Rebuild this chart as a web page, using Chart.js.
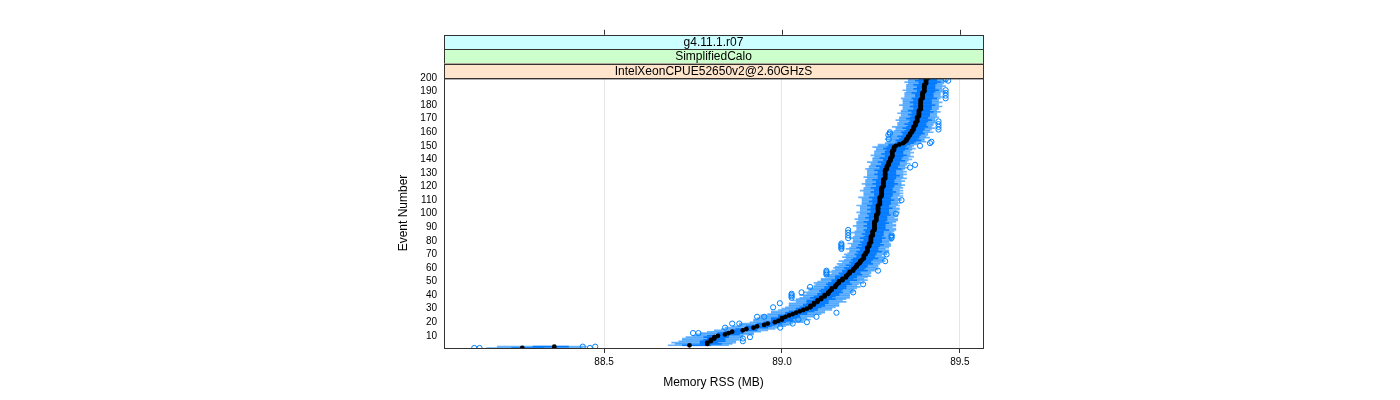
<!DOCTYPE html>
<html>
<head>
<meta charset="utf-8">
<script src="https://cdn.jsdelivr.net/npm/chart.js@4"></script>
<style>
  body { margin: 0; background: #fff; }
  canvas { display: block; }
</style>
</head>
<body>
<canvas id="rss" width="1400" height="400"></canvas>
<script>
// strip labels, outermost first
const stripLabels = ["g4.11.1.r07", "SimplifiedCalo", "IntelXeonCPUE52650v2@2.60GHzS"];
const stripColors = ["#ccffff", "#ccffcc", "#ffe5cc"];

const events = Array.from({length: 200}, (_, i) => i + 1);

// median memory RSS per event (MB)
const medians = [
  88.27, 88.36, 88.74, 88.79, 88.79, 88.80, 88.80, 88.81, 88.81, 88.82,
  88.84, 88.85, 88.86, 88.89, 88.90, 88.92, 88.93, 88.95, 88.96, 88.98,
  88.99, 89.00, 89.00, 89.01, 89.02, 89.03, 89.04, 89.05, 89.06, 89.07,
  89.08, 89.08, 89.09, 89.09, 89.10, 89.10, 89.11, 89.11, 89.12, 89.12,
  89.13, 89.13, 89.135, 89.14, 89.14, 89.15, 89.15, 89.155, 89.16, 89.16,
  89.17, 89.17, 89.18, 89.18, 89.185, 89.19, 89.19, 89.20, 89.20, 89.205,
  89.21, 89.21, 89.215, 89.22, 89.22, 89.225, 89.23, 89.23, 89.23, 89.235,
  89.235, 89.24, 89.24, 89.24, 89.24, 89.245, 89.245, 89.245, 89.25, 89.25,
  89.25, 89.25, 89.25, 89.255, 89.255, 89.255, 89.255, 89.26, 89.26, 89.26,
  89.26, 89.26, 89.26, 89.26, 89.265, 89.265, 89.265, 89.265, 89.265, 89.27,
  89.27, 89.27, 89.27, 89.27, 89.27, 89.27, 89.275, 89.275, 89.275, 89.275,
  89.275, 89.275, 89.28, 89.28, 89.28, 89.28, 89.28, 89.28, 89.28, 89.285,
  89.285, 89.285, 89.285, 89.285, 89.285, 89.29, 89.29, 89.29, 89.29, 89.29,
  89.29, 89.29, 89.295, 89.295, 89.295, 89.30, 89.30, 89.30, 89.305, 89.305,
  89.305, 89.31, 89.31, 89.31, 89.31, 89.31, 89.315, 89.315, 89.315, 89.32,
  89.33, 89.34, 89.345, 89.35, 89.35, 89.355, 89.355, 89.36, 89.36, 89.365,
  89.365, 89.37, 89.37, 89.37, 89.375, 89.375, 89.375, 89.38, 89.38, 89.38,
  89.38, 89.385, 89.385, 89.385, 89.385, 89.385, 89.39, 89.39, 89.39, 89.39,
  89.39, 89.39, 89.39, 89.39, 89.395, 89.395, 89.395, 89.395, 89.395, 89.40,
  89.40, 89.40, 89.40, 89.40, 89.40, 89.405, 89.405, 89.405, 89.405, 89.41
];

// distance from median to lower / upper quartile
const boxLo = [
  .03,.06,.02,.02,.02,.03,.02,.02,.03,.03,.02,.03,.02,.03,.03,.02,.03,.02,.03,.03,
  .02,.03,.03,.02,.03,.02,.03,.03,.02,.03,.03,.02,.03,.02,.03,.03,.02,.03,.03,.02,
  .03,.02,.03,.03,.02,.03,.02,.03,.03,.02,.03,.02,.03,.03,.02,.03,.02,.03,.02,.03,
  .02,.03,.02,.03,.02,.03,.03,.02,.02,.03,.02,.03,.02,.02,.03,.02,.03,.02,.03,.02,
  .02,.03,.02,.02,.03,.02,.02,.03,.02,.02,.03,.02,.02,.03,.02,.02,.03,.02,.02,.03,
  .02,.02,.03,.02,.02,.03,.02,.02,.03,.02,.02,.03,.02,.02,.02,.03,.02,.02,.03,.02,
  .02,.03,.02,.02,.03,.02,.02,.02,.03,.02,.02,.03,.02,.02,.03,.02,.02,.03,.02,.02,
  .03,.02,.02,.03,.02,.02,.02,.03,.02,.02,.03,.02,.02,.03,.02,.02,.03,.02,.02,.03,
  .02,.02,.03,.02,.02,.03,.02,.02,.02,.03,.02,.02,.03,.02,.02,.03,.02,.02,.03,.02,
  .02,.03,.02,.02,.03,.02,.02,.02,.03,.02,.02,.03,.02,.02,.03,.02,.02,.03,.02,.02
];
const boxHi = [
  .06,.04,.06,.04,.03,.04,.04,.03,.04,.03,.04,.04,.03,.04,.03,.04,.04,.03,.04,.03,
  .04,.03,.04,.04,.03,.04,.03,.04,.04,.03,.03,.04,.03,.04,.03,.03,.04,.03,.03,.04,
  .03,.04,.03,.03,.04,.03,.03,.04,.03,.03,.04,.03,.03,.03,.04,.03,.03,.04,.03,.03,
  .03,.03,.04,.03,.03,.03,.04,.03,.03,.03,.03,.04,.03,.03,.03,.03,.04,.03,.03,.03,
  .03,.04,.03,.03,.03,.03,.03,.04,.03,.03,.03,.03,.04,.03,.03,.03,.03,.03,.04,.03,
  .03,.03,.03,.04,.03,.03,.03,.03,.03,.04,.03,.03,.03,.03,.03,.04,.03,.03,.03,.03,
  .03,.04,.03,.03,.03,.03,.03,.04,.03,.03,.03,.03,.04,.03,.03,.03,.03,.03,.04,.03,
  .03,.03,.04,.03,.03,.03,.03,.04,.03,.03,.03,.03,.03,.04,.03,.03,.03,.03,.04,.03,
  .03,.03,.03,.04,.03,.03,.03,.03,.04,.03,.03,.03,.03,.03,.04,.03,.03,.03,.03,.04,
  .03,.03,.03,.03,.04,.03,.03,.03,.03,.03,.04,.03,.03,.03,.03,.03,.04,.03,.03,.03
];
// distance from median to whisker ends
const whiskLo = [
  .10,.16,.06,.09,.10,.09,.08,.09,.08,.07,.08,.08,.07,.08,.07,.08,.07,.07,.08,.07,
  .07,.08,.07,.07,.08,.07,.07,.08,.07,.07,.07,.06,.07,.07,.06,.07,.07,.06,.06,.07,
  .06,.07,.06,.06,.07,.06,.06,.06,.07,.06,.06,.06,.05,.06,.06,.05,.06,.06,.05,.06,
  .06,.05,.06,.05,.06,.05,.05,.06,.05,.06,.05,.05,.05,.06,.05,.05,.05,.06,.05,.05,
  .05,.06,.05,.05,.05,.06,.05,.05,.05,.05,.06,.05,.05,.05,.05,.06,.05,.05,.05,.05,
  .06,.05,.05,.05,.05,.06,.05,.05,.05,.05,.05,.06,.05,.05,.05,.05,.06,.05,.05,.05,
  .05,.06,.05,.05,.05,.05,.06,.05,.05,.05,.05,.05,.06,.05,.05,.05,.05,.06,.05,.05,
  .05,.05,.06,.05,.05,.05,.05,.05,.06,.05,.06,.05,.05,.05,.06,.05,.05,.05,.05,.06,
  .05,.05,.05,.06,.05,.05,.05,.05,.06,.05,.05,.05,.05,.06,.05,.05,.05,.05,.05,.06,
  .05,.05,.05,.05,.06,.05,.05,.05,.05,.05,.06,.05,.05,.05,.05,.05,.06,.05,.05,.05
];
const whiskHi = [
  .17,.09,.11,.07,.08,.07,.08,.07,.08,.07,.08,.07,.08,.07,.08,.07,.08,.07,.07,.08,
  .07,.08,.07,.08,.07,.08,.08,.07,.08,.07,.07,.08,.07,.07,.08,.07,.07,.08,.07,.07,
  .06,.07,.07,.06,.07,.07,.06,.06,.07,.06,.07,.06,.06,.07,.06,.06,.06,.06,.07,.06,
  .06,.06,.06,.06,.07,.06,.06,.06,.05,.06,.06,.06,.06,.05,.06,.06,.06,.06,.05,.06,
  .06,.06,.05,.06,.06,.05,.06,.06,.06,.05,.06,.06,.05,.06,.06,.06,.05,.06,.06,.05,
  .06,.05,.06,.06,.05,.06,.05,.06,.05,.06,.06,.05,.06,.05,.06,.05,.06,.05,.06,.05,
  .06,.05,.05,.06,.05,.06,.05,.05,.06,.05,.06,.05,.05,.06,.05,.05,.06,.05,.05,.06,
  .05,.06,.05,.05,.06,.05,.05,.06,.05,.05,.05,.05,.06,.05,.05,.06,.05,.05,.05,.06,
  .05,.05,.06,.05,.05,.05,.06,.05,.05,.05,.06,.05,.05,.05,.06,.05,.05,.05,.06,.05,
  .05,.06,.05,.05,.05,.06,.05,.05,.05,.06,.05,.05,.05,.06,.05,.05,.05,.06,.05,.05
];

// outliers: event number and value
const outlierEvents = [
  1, 1, 1, 2, 2, 6, 8, 9, 12, 12, 16, 16, 19, 19, 19, 20, 22, 24, 24, 24,
  27, 31, 34, 38, 39, 40, 41, 42, 42, 46, 48, 55, 56, 57, 58, 58, 65, 70,
  74, 75, 76, 77, 78, 82, 84, 86, 88, 82, 83, 84, 100, 110, 134, 136,
  150, 152, 153, 155, 158, 159, 160, 162, 164, 166, 168, 185, 187, 189, 191, 198, 199
];
const outlierValues = [
  88.135, 88.15, 88.46, 88.44, 88.475, 88.89, 88.89, 88.91, 88.75, 88.765, 88.84, 88.995, 88.86, 88.88, 89.03, 89.07, 89.046, 88.93, 88.95, 89.097,
  89.153, 88.975, 88.994, 89.027, 89.027, 89.027, 89.027, 89.055, 89.20, 89.079, 89.228, 89.125, 89.125, 89.125, 89.125, 89.27, 89.29, 89.294,
  89.167, 89.167, 89.167, 89.167, 89.167, 89.186, 89.186, 89.186, 89.186, 89.308, 89.308, 89.308, 89.32, 89.336, 89.36, 89.374,
  89.388, 89.416, 89.42, 89.30, 89.299, 89.303, 89.303, 89.44, 89.44, 89.44, 89.44, 89.46, 89.46, 89.46, 89.46, 89.467, 89.46
];

const blue = "#0080ff";

const stripPlugin = {
  id: "strips",
  afterDraw(chart) {
    const ctx = chart.ctx;
    const a = chart.chartArea;
    const h = 14.4;
    const w = a.right - a.left;
    ctx.save();
    ctx.lineWidth = 1;
    ctx.strokeStyle = "#333";
    stripLabels.forEach((lab, i) => {
      const y = a.top - (stripLabels.length - i) * h;
      ctx.fillStyle = stripColors[i];
      ctx.fillRect(a.left, y, w, h);
      ctx.strokeRect(a.left + 0.5, Math.round(y) + 0.5, w, h);
      ctx.fillStyle = "#000";
      ctx.font = '12px "Liberation Sans", Arial, sans-serif';
      ctx.textAlign = "center";
      ctx.textBaseline = "middle";
      ctx.fillText(lab, (a.left + a.right) / 2, y + h / 2 + 0.5);
    });
    // panel border
    ctx.strokeRect(a.left + 0.5, a.top + 0.5, w, a.bottom - a.top);
    // tick marks above the strips
    const xs = chart.scales.x;
    const top = a.top - stripLabels.length * h;
    xs.ticks.forEach(t => {
      const px = Math.round(xs.getPixelForValue(t.value)) + 0.5;
      ctx.beginPath();
      ctx.moveTo(px, top);
      ctx.lineTo(px, top - 5);
      ctx.stroke();
    });
    ctx.restore();
  }
};

Chart.defaults.font.family = '"Liberation Sans", Arial, sans-serif';
Chart.defaults.color = "#000";

new Chart(document.getElementById("rss"), {
  type: "bar",
  data: {
    datasets: [
      {
        type: "scatter",
        indexAxis: "x",
        label: "median",
        data: medians.map((v, i) => ({x: v, y: events[i]})),
        pointRadius: 2.4,
        pointBackgroundColor: "#000",
        pointBorderWidth: 0
      },
      {
        type: "scatter",
        indexAxis: "x",
        label: "outliers",
        data: outlierEvents.map((e, i) => ({x: outlierValues[i], y: e})),
        pointRadius: 2.6,
        pointBackgroundColor: "rgba(0,0,0,0)",
        pointBorderColor: blue,
        pointBorderWidth: 1
      },
      {
        label: "box",
        data: medians.map((v, i) => ({y: events[i], x: [v - boxLo[i], v + boxHi[i]]})),
        backgroundColor: "rgba(0,120,255,0.95)",
        borderWidth: 0,
        barThickness: 1,
        grouped: false
      },
      {
        label: "whiskers",
        data: medians.map((v, i) => ({y: events[i], x: [v - whiskLo[i], v + whiskHi[i]]})),
        backgroundColor: "rgba(0,128,255,0.6)",
        borderWidth: 0,
        barThickness: 1,
        grouped: false
      }
    ]
  },
  options: {
    indexAxis: "y",
    responsive: false,
    animation: false,
    layout: { padding: { left: 396, right: 417, top: 78, bottom: 0 } },
    plugins: { legend: { display: false }, tooltip: { enabled: false } },
    scales: {
      x: {
        type: "linear",
        min: 88.05,
        max: 89.565,
        offset: false,
        border: { display: false },
        grid: { color: "#e6e6e6", offset: false, drawTicks: true, tickLength: 5, tickColor: "#333" },
        ticks: {
          stepSize: 0.5,
          includeBounds: false,
          maxTicksLimit: 10,
          padding: 3,
          font: { size: 10 },
          callback: v => v.toFixed(1)
        },
        title: { display: true, text: "Memory RSS (MB)", font: { size: 12 }, padding: { top: 0, bottom: 10 } },
        afterFit: s => { s.height = 52; }
      },
      y: {
        type: "linear",
        min: 1,
        max: 200,
        offset: false,
        border: { display: false },
        grid: { display: false, drawTicks: false },
        ticks: {
          stepSize: 10,
          includeBounds: false,
          maxTicksLimit: 25,
          autoSkip: false,
          padding: 7,
          font: { size: 10 }
        },
        title: { display: true, text: "Event Number", font: { size: 12 }, padding: 0 },
        afterFit: s => { s.width = 48; }
      }
    }
  },
  plugins: [stripPlugin]
});
</script>
</body>
</html>
